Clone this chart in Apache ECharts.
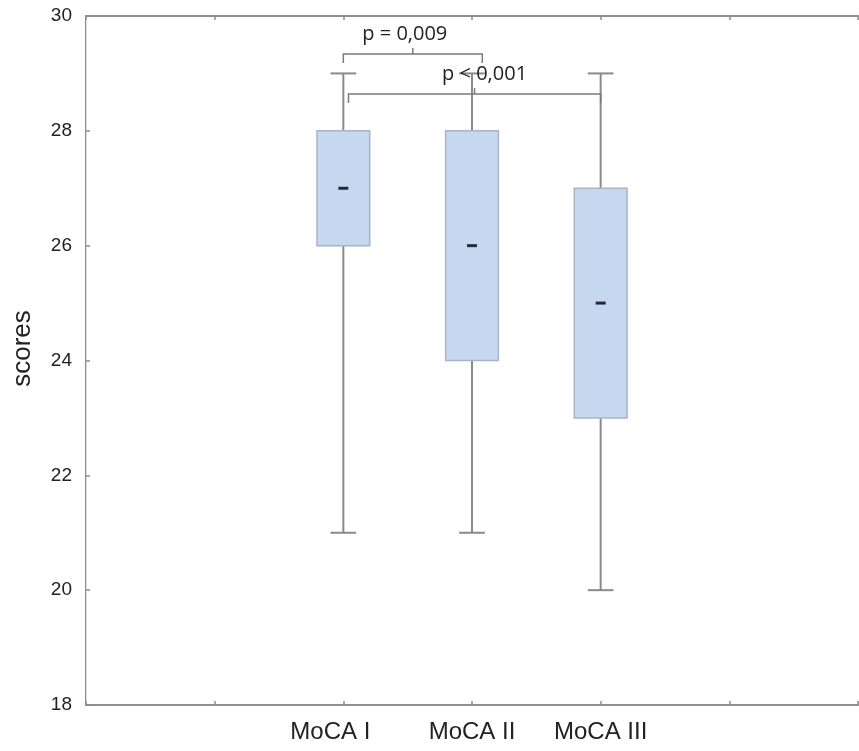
<!DOCTYPE html>
<html>
<head>
<meta charset="utf-8">
<script src="https://cdn.jsdelivr.net/npm/echarts@6/dist/echarts.min.js"></script>
<style>
  html, body { margin: 0; padding: 0; background: #fff; }
  #chart { width: 859px; height: 751px; }
</style>
</head>
<body>
<div id="chart"></div>
<script>
// test names and their position on the x scale
const categories = ['MoCA I', 'MoCA II', 'MoCA III'];
const positions = [2, 3, 4];

// box statistics
const mins = [21, 21, 20];
const q1s = [26, 24, 23];
const medians = [27, 26, 25];
const q3s = [28, 28, 27];
const maxs = [29, 29, 29];

// significance brackets
const bracketFrom = [2.0, 2.04];
const bracketTo = [3.08, 4.0];
const bracketLevel = [29.34, 28.64];
const pLabels = ['p = 0,009', 'p < 0,001'];

const yTicks = [18, 20, 22, 24, 26, 28, 30];

const boxData = positions.map((p, i) => [p, mins[i], q1s[i], medians[i], q3s[i], maxs[i]]);
const bracketData = bracketFrom.map((f, i) => [f, bracketTo[i], bracketLevel[i], i]);

const axisGray = '#8f8f8f';
const font = 'Liberation Sans, Arial, sans-serif';
const labelNudge = [-8, 10]; // px shift of the p labels
const xLabelPad = [26, 0, 0];

const chart = echarts.init(document.getElementById('chart'));
chart.setOption({
  animation: false,
  grid: { left: 86, right: 1, top: 16, bottom: 46, containLabel: false, outerBoundsMode: 'none' },
  xAxis: [{
    type: 'value', min: 0, max: 6, interval: 1,
    axisLine: { lineStyle: { color: axisGray, width: 2 } },
    axisTick: { inside: true, length: 4, lineStyle: { color: axisGray, width: 1.5 } },
    splitLine: { show: false },
    axisLabel: {
      margin: 15, color: '#222', fontSize: 24, fontFamily: font,
      formatter: v => {
        const i = positions.indexOf(v);
        return i >= 0 ? '{l' + i + '|' + categories[i] + '}' : '';
      },
      rich: {
        l0: { fontSize: 24, fontFamily: font, color: '#222', padding: [0, xLabelPad[0], 0, 0] },
        l1: { fontSize: 24, fontFamily: font, color: '#222' },
        l2: { fontSize: 24, fontFamily: font, color: '#222' }
      }
    }
  }, {
    type: 'value', position: 'top', min: 0, max: 6, interval: 1,
    axisLine: { show: true, lineStyle: { color: axisGray, width: 2 } },
    axisTick: { show: true, inside: true, length: 4, lineStyle: { color: axisGray, width: 1.5 } },
    axisLabel: { show: false }, splitLine: { show: false }
  }],
  yAxis: [{
    type: 'value', min: 18, max: 30, interval: 2,
    name: 'scores', nameLocation: 'middle', nameGap: 50, nameRotate: 90,
    nameTextStyle: { color: '#222', fontSize: 26, fontFamily: font, padding: [0, 0, 0, 24] },
    axisLine: { show: true, lineStyle: { color: axisGray, width: 2 } },
    axisTick: { show: true, inside: true, length: 4, lineStyle: { color: axisGray, width: 1.5 } },
    splitLine: { show: false },
    axisLabel: {
      margin: 14, color: '#222', fontSize: 19, fontFamily: font,
      formatter: v => yTicks.indexOf(v) >= 0 ? String(v) : ''
    }
  }, {
    type: 'value', position: 'right', min: 18, max: 30, interval: 2,
    axisLine: { show: true, lineStyle: { color: '#dcdcdc', width: 1 } },
    axisTick: { show: false }, axisLabel: { show: false }, splitLine: { show: false }
  }],
  series: [{
    type: 'custom',
    data: boxData,
    encode: { x: 0, y: [1, 2, 3, 4, 5] },
    renderItem: function (params, api) {
      const x = api.value(0);
      const pMin = api.coord([x, api.value(1)]);
      const pQ1 = api.coord([x, api.value(2)]);
      const pMed = api.coord([x, api.value(3)]);
      const pQ3 = api.coord([x, api.value(4)]);
      const pMax = api.coord([x, api.value(5)]);
      const unit = api.size([1, 0])[0];
      const boxW = unit * 0.41, capW = unit * 0.2, medW = 10;
      const cx = pMed[0];
      const whisker = { stroke: '#8a8a8a', lineWidth: 2 };
      return {
        type: 'group',
        children: [
          { type: 'line', shape: { x1: cx, y1: pMax[1], x2: cx, y2: pQ3[1] }, style: whisker },
          { type: 'line', shape: { x1: cx, y1: pQ1[1], x2: cx, y2: pMin[1] }, style: whisker },
          { type: 'line', shape: { x1: cx - capW / 2, y1: pMax[1], x2: cx + capW / 2, y2: pMax[1] }, style: whisker },
          { type: 'line', shape: { x1: cx - capW / 2, y1: pMin[1], x2: cx + capW / 2, y2: pMin[1] }, style: whisker },
          { type: 'rect', shape: { x: cx - boxW / 2, y: pQ3[1], width: boxW, height: pQ1[1] - pQ3[1] },
            style: { fill: '#c6d8f0', stroke: '#a9b4c4', lineWidth: 1.5 } },
          { type: 'rect', shape: { x: cx - medW / 2, y: pMed[1] - 1.5, width: medW, height: 3 },
            style: { fill: '#1f2b3a' } }
        ]
      };
    }
  }, {
    type: 'custom',
    data: bracketData,
    encode: { x: [0, 1], y: 2 },
    z: 3,
    renderItem: function (params, api) {
      const a = api.coord([api.value(0), api.value(2)]);
      const b = api.coord([api.value(1), api.value(2)]);
      const mid = (a[0] + b[0]) / 2;
      const idx = api.value(3);
      const st = { stroke: '#7a7a7a', lineWidth: 1.5, fill: null };
      return {
        type: 'group',
        children: [
          { type: 'polyline', shape: { points: [[a[0], a[1] + 9], [a[0], a[1]], [b[0], b[1]], [b[0], b[1] + 9]] }, style: st },
          { type: 'line', shape: { x1: mid, y1: a[1], x2: mid, y2: a[1] - 6 }, style: st },
          { type: 'text', x: mid + labelNudge[idx], y: a[1] - 20,
            style: { text: pLabels[idx], fill: '#222', fontSize: 20, fontFamily: 'Open Sans, sans-serif',
              align: 'center', verticalAlign: 'middle' } }
        ]
      };
    }
  }]
});
</script>
</body>
</html>
